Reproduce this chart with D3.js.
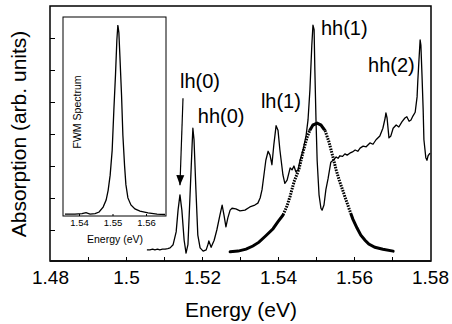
<!DOCTYPE html>
<html><head><meta charset="utf-8">
<script src="https://cdn.jsdelivr.net/npm/d3@7"></script>
<style>html,body{margin:0;padding:0;background:#fff;}svg{display:block;font-family:"Liberation Sans",Arial,sans-serif;}</style>
</head><body>
<script>
// ---- data ----
const energyTicks = [1.48, 1.50, 1.52, 1.54, 1.56, 1.58];
const insetTicks = [1.54, 1.55, 1.56];
// absorption spectrum: [energy (eV), absorption (arb.)]
const absorption = [[1.5055,-0.31],[1.5063,-0.31],[1.5070,-0.30],[1.5076,-0.31],[1.5083,-0.30],[1.5089,-0.31],[1.5096,-0.30],[1.5103,-0.30],[1.5110,-0.29],[1.5116,-0.28],[1.5124,-0.23],[1.5132,-0.03],[1.5137,0.31],[1.5142,0.55],[1.5147,0.31],[1.5153,-0.16],[1.5158,-0.36],[1.5163,-0.23],[1.5168,0.47],[1.5174,1.33],[1.5176,1.59],[1.5179,1.41],[1.5184,0.63],[1.5189,-0.08],[1.5195,-0.28],[1.5203,-0.33],[1.5211,-0.31],[1.5216,-0.22],[1.5218,-0.17],[1.5224,-0.27],[1.5232,-0.16],[1.5239,0.00],[1.5247,0.23],[1.5253,0.39],[1.5258,0.23],[1.5263,0.05],[1.5268,0.19],[1.5274,0.31],[1.5279,0.34],[1.5289,0.33],[1.5300,0.30],[1.5313,0.31],[1.5326,0.36],[1.5339,0.39],[1.5347,0.42],[1.5353,0.50],[1.5358,0.63],[1.5363,0.86],[1.5368,1.09],[1.5374,1.23],[1.5379,1.17],[1.5384,1.02],[1.5389,1.33],[1.5395,1.63],[1.5400,1.56],[1.5405,1.25],[1.5413,0.86],[1.5418,0.73],[1.5424,0.78],[1.5432,0.97],[1.5437,0.94],[1.5442,1.00],[1.5447,0.91],[1.5453,0.94],[1.5458,1.09],[1.5466,1.25],[1.5474,1.48],[1.5479,1.72],[1.5484,2.19],[1.5489,2.89],[1.5492,3.20],[1.5495,3.13],[1.5497,2.50],[1.5500,1.72],[1.5503,1.09],[1.5508,0.55],[1.5513,0.34],[1.5516,0.31],[1.5521,0.39],[1.5526,0.63],[1.5532,0.81],[1.5539,1.06],[1.5545,1.09],[1.5553,1.14],[1.5558,1.12],[1.5563,1.16],[1.5570,1.15],[1.5576,1.19],[1.5582,1.17],[1.5589,1.20],[1.5596,1.22],[1.5603,1.25],[1.5610,1.23],[1.5616,1.28],[1.5624,1.31],[1.5632,1.30],[1.5642,1.36],[1.5650,1.34],[1.5658,1.41],[1.5668,1.47],[1.5676,1.59],[1.5682,1.75],[1.5684,1.83],[1.5687,1.75],[1.5692,1.44],[1.5697,1.47],[1.5703,1.59],[1.5711,1.64],[1.5718,1.61],[1.5726,1.69],[1.5734,1.75],[1.5739,1.77],[1.5745,1.70],[1.5750,1.72],[1.5755,1.78],[1.5761,1.84],[1.5766,2.08],[1.5768,2.34],[1.5771,2.66],[1.5774,2.97],[1.5776,2.89],[1.5779,2.41],[1.5782,1.88],[1.5784,1.41],[1.5789,1.13],[1.5792,1.09],[1.5795,1.16],[1.5800,1.20]];
// laser spectrum (thick dotted)
const laser = [[1.5274,-0.34],[1.5295,-0.33],[1.5316,-0.30],[1.5334,-0.25],[1.5350,-0.19],[1.5368,-0.09],[1.5387,0.02],[1.5400,0.13],[1.5413,0.23],[1.5424,0.38],[1.5432,0.53],[1.5442,0.75],[1.5455,0.95],[1.5466,1.22],[1.5476,1.44],[1.5484,1.56],[1.5492,1.64],[1.5503,1.67],[1.5513,1.64],[1.5524,1.55],[1.5534,1.38],[1.5545,1.13],[1.5553,0.94],[1.5561,0.78],[1.5571,0.61],[1.5579,0.47],[1.5589,0.30],[1.5597,0.17],[1.5608,0.03],[1.5618,-0.08],[1.5629,-0.16],[1.5639,-0.22],[1.5655,-0.27],[1.5676,-0.30],[1.5703,-0.33]];
// FWM spectrum (inset)
const fwm = [[1.5358,0.005],[1.5388,0.005],[1.5409,0.008],[1.5421,0.013],[1.5433,0.005],[1.5448,0.008],[1.5460,0.016],[1.5472,0.042],[1.5481,0.079],[1.5487,0.13],[1.5493,0.21],[1.5499,0.34],[1.5504,0.55],[1.5509,0.74],[1.5513,0.92],[1.5516,1.00],[1.5519,0.96],[1.5522,0.84],[1.5527,0.63],[1.5531,0.42],[1.5536,0.26],[1.5540,0.16],[1.5546,0.09],[1.5555,0.053],[1.5567,0.032],[1.5582,0.021],[1.5606,0.011],[1.5633,0.005],[1.5657,0.003]];
const peakLabels = [
  {text:"lh(0)", e:1.5142, v:2.22},
  {text:"hh(0)", e:1.5189, v:1.67},
  {text:"lh(1)", e:1.5355, v:1.91},
  {text:"hh(1)", e:1.5513, v:3.05},
  {text:"hh(2)", e:1.5637, v:2.47}
];
const arrow = {e0:1.5150, v0:2.06, e1:1.5142, v1:0.70};

// ---- layout ----
const W=452, H=324;
const svg = d3.select("body").append("svg").attr("width",W).attr("height",H);
const x = d3.scaleLinear().domain([1.48,1.58]).range([50,430]);
const y = d3.scaleLinear().domain([-0.5,3.5]).range([262,6]);

const line = d3.line().x(d=>x(d[0])).y(d=>y(d[1]));
const defs = svg.append("defs");

// frame
svg.append("rect").attr("x",50).attr("y",6).attr("width",381).attr("height",255)
  .attr("fill","none").attr("stroke","#000").attr("stroke-width",1.5);
svg.append("line").attr("x1",50).attr("x2",431).attr("y1",261).attr("y2",261)
  .attr("stroke","#111").attr("stroke-width",2.2);

// bottom axis ticks (inward)
const xAxis = d3.axisBottom(x).tickValues(d3.range(1.49,1.575,0.01)).tickSize(-4).tickFormat("");
svg.append("g").attr("transform","translate(0,261)").call(xAxis)
  .call(g=>g.select(".domain").remove())
  .selectAll("line").attr("stroke","#000").attr("stroke-width",1);
const xLab = d3.axisBottom(x).tickValues(energyTicks).tickSize(0).tickPadding(0)
  .tickFormat(d=>String(+d.toFixed(2)));
svg.append("g").attr("transform","translate(0,284)").call(xLab)
  .call(g=>g.select(".domain").remove())
  .selectAll("text").attr("dy",0).attr("y",0).attr("font-size",19).attr("fill","#000")
  .attr("font-family","'Liberation Sans',Arial,sans-serif");

// left ticks
const yAxis = d3.axisLeft(y).tickValues(d3.range(0,3.01,0.5)).tickSize(-5).tickFormat("");
svg.append("g").attr("transform","translate(50,0)").call(yAxis)
  .call(g=>g.select(".domain").remove())
  .selectAll("line").attr("stroke","#000").attr("stroke-width",1);

// axis titles
svg.append("text").attr("x",241).attr("y",317).attr("text-anchor","middle")
  .attr("font-size",21).text("Energy (eV)");
svg.append("text").attr("transform","translate(26,134) rotate(-90)").attr("text-anchor","middle")
  .attr("font-size",21).text("Absorption (arb. units)");

// laser spectrum: solid thick tails and crest, dotted steep flanks
defs.append("clipPath").attr("id","solidpart").call(c=>{
  c.append("rect").attr("x",0).attr("y",y(0.25)).attr("width",W).attr("height",H);
  c.append("rect").attr("x",0).attr("y",0).attr("width",W).attr("height",y(1.55));
});
defs.append("clipPath").attr("id","dotpart")
  .append("rect").attr("x",0).attr("y",y(1.55)).attr("width",W).attr("height",y(0.25)-y(1.55));
svg.append("path").datum(laser).attr("d",line).attr("fill","none").attr("clip-path","url(#solidpart)")
  .attr("stroke","#000").attr("stroke-width",3).attr("stroke-linecap","round");
svg.append("path").datum(laser).attr("d",line).attr("fill","none").attr("clip-path","url(#dotpart)")
  .attr("stroke","#000").attr("stroke-width",3).attr("stroke-dasharray","1.6 1.1");

// absorption
svg.append("path").datum(absorption).attr("d",line).attr("fill","none")
  .attr("stroke","#000").attr("stroke-width",1.3).attr("stroke-linejoin","round");

// peak labels
svg.selectAll("text.pl").data(peakLabels).join("text").attr("class","pl")
  .attr("x",d=>x(d.e)).attr("y",d=>y(d.v)).attr("font-size",20).text(d=>d.text);

// arrow
defs.append("marker").attr("id","ah").attr("viewBox","0 0 10 10")
  .attr("refX",10).attr("refY",5).attr("markerWidth",10).attr("markerHeight",10)
  .attr("markerUnits","userSpaceOnUse").attr("orient","auto")
  .append("path").attr("d","M0,1 L10,5 L0,9 Z").attr("fill","#000");
svg.append("line").attr("x1",x(arrow.e0)).attr("y1",y(arrow.v0))
  .attr("x2",x(arrow.e1)).attr("y2",y(arrow.v1)).attr("stroke","#000")
  .attr("stroke-width",1.2).attr("marker-end","url(#ah)");

// ---- inset ----
const xi = d3.scaleLinear().domain([1.54,1.56]).range([79,146]);
const yi = d3.scaleLinear().domain([-0.005,1.042]).range([216,17]);
const ins = svg.append("g");
ins.append("rect").attr("x",63).attr("y",17).attr("width",103).attr("height",199)
  .attr("fill","#fff").attr("stroke","#000").attr("stroke-width",1);
const iAx = d3.axisBottom(xi).tickValues(insetTicks).tickSize(-2).tickPadding(0)
  .tickFormat(d=>d.toFixed(2));
ins.append("g").attr("transform","translate(0,216)").call(iAx)
  .call(g=>g.select(".domain").remove())
  .call(g=>g.selectAll("text").attr("y",10).attr("dy",0).attr("font-size",9.5).attr("fill","#000")
    .attr("font-family","'Liberation Sans',Arial,sans-serif"))
  .selectAll("line").attr("stroke","#000");
ins.append("text").attr("x",115).attr("y",243).attr("text-anchor","middle")
  .attr("font-size",10.5).text("Energy (eV)");
ins.append("text").attr("transform","translate(81,112) rotate(-90)").attr("text-anchor","middle")
  .attr("font-size",10.5).text("FWM Spectrum");
ins.append("path").datum(fwm).attr("d",d3.line().x(d=>xi(d[0])).y(d=>yi(d[1])))
  .attr("fill","none").attr("stroke","#000").attr("stroke-width",1.3);
</script>
</body></html>
